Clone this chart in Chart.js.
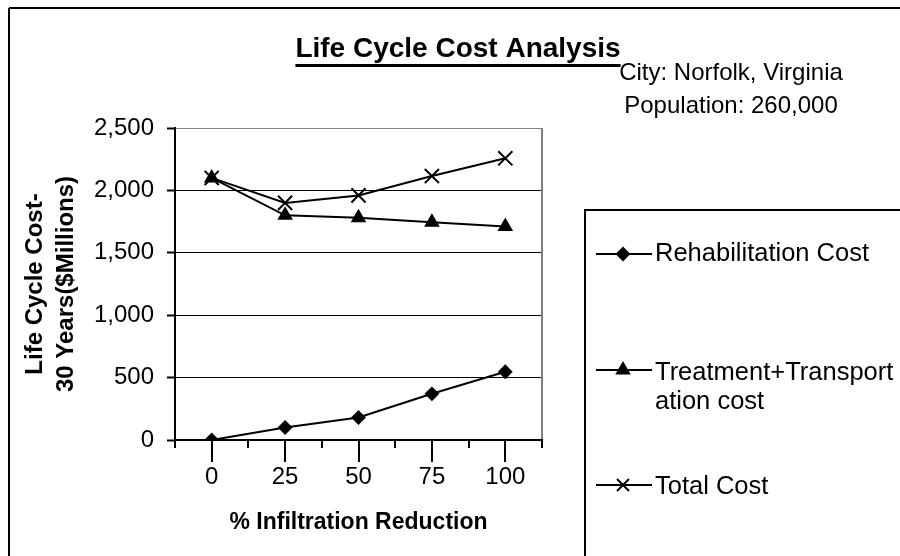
<!DOCTYPE html>
<html><head><meta charset="utf-8">
<script src="https://cdn.jsdelivr.net/npm/chart.js@4/dist/chart.umd.min.js"></script>
<style>html,body{margin:0;padding:0;background:#fff}#wrap{width:900px;height:556px;position:relative}canvas{display:block}</style>
</head><body><div id="wrap"><canvas id="c" width="900" height="556"></canvas></div>
<script>
const categories = ['0', '25', '50', '75', '100'];
const rehabilitationCost = [0, 100, 180, 370, 547];
const treatmentTransportationCost = [2100, 1800, 1780, 1745, 1710];
const totalCost = [2100, 1900, 1960, 2115, 2257];
const yTicks = [0, 500, 1000, 1500, 2000, 2500];
const seriesLabels = ['Rehabilitation Cost', 'Treatment+Transportation cost', 'Total Cost'];
const legendLines = [['Rehabilitation Cost'], ['Treatment+Transport', 'ation cost'], ['Total Cost']];
const chartTitle = 'Life Cycle Cost Analysis';
const noteLines = ['City: Norfolk, Virginia', 'Population: 260,000'];
const xTitle = '% Infiltration Reduction';
const yTitle = ['Life Cycle Cost-', '30 Years($Millions)'];

const FONT = "Arial, 'Liberation Sans', sans-serif";
Chart.defaults.font.family = FONT;
Chart.defaults.color = '#000';

function seg(ctx, x1, y1, x2, y2) { ctx.beginPath(); ctx.moveTo(x1, y1); ctx.lineTo(x2, y2); ctx.stroke(); }

const decor = {
  id: 'decor',
  afterDraw(chart) {
    const ctx = chart.ctx, ca = chart.chartArea, xs = chart.scales.x;
    ctx.save();
    // outer chart border (top and left visible)
    ctx.strokeStyle = '#000'; ctx.lineWidth = 2;
    seg(ctx, 9, 8, 900, 8);
    seg(ctx, 9, 8, 9, 556);
    // plot area right border (gray)
    ctx.strokeStyle = '#808080'; ctx.lineWidth = 2;
    seg(ctx, ca.right, ca.top, ca.right, ca.bottom - 1);
    // long tick marks at category centres
    ctx.strokeStyle = '#000'; ctx.lineWidth = 2;
    categories.forEach((c, i) => { const px = Math.round(xs.getPixelForValue(i)); seg(ctx, px, ca.bottom, px, ca.bottom + 22); });
    // title
    ctx.fillStyle = '#000';
    ctx.font = 'bold 28px ' + FONT;
    ctx.textAlign = 'center'; ctx.textBaseline = 'alphabetic';
    const tx = 458, ty = 57;
    ctx.fillText(chartTitle, tx, ty);
    const tw = ctx.measureText(chartTitle).width;
    ctx.lineWidth = 3;
    seg(ctx, tx - tw / 2, 65.5, tx + tw / 2, 65.5);
    // notes
    ctx.font = '24px ' + FONT;
    ctx.fillText(noteLines[0], 731, 80);
    ctx.fillText(noteLines[1], 731, 113);
    // legend box
    ctx.lineWidth = 2;
    ctx.strokeRect(585, 210, 400, 400);
    const markY = [254, 370, 485];
    const textY = [254, 373, 487];
    ctx.font = '25.5px ' + FONT;
    ctx.textAlign = 'left'; ctx.textBaseline = 'middle';
    chart.data.datasets.forEach((ds, i) => {
      const y = markY[i];
      ctx.strokeStyle = '#000'; ctx.lineWidth = 2;
      seg(ctx, 596, y, 652, y);
      ctx.fillStyle = '#000';
      Chart.helpers.drawPoint(ctx, { pointStyle: ds.pointStyle, radius: ds.legendRadius, rotation: 0, borderWidth: 2 }, 623, y);
      legendLines[i].forEach((t, k) => ctx.fillText(t, 655, textY[i] + k * 29));
    });
    ctx.restore();
  }
};

new Chart(document.getElementById('c'), {
  type: 'line',
  data: {
    labels: categories,
    datasets: [
      { label: seriesLabels[0], data: rehabilitationCost, pointStyle: 'rectRot', pointRadius: 6, legendRadius: 6 },
      { label: seriesLabels[1], data: treatmentTransportationCost, pointStyle: 'triangle', pointRadius: 7, legendRadius: 7 },
      { label: seriesLabels[2], data: totalCost, pointStyle: 'crossRot', pointRadius: 10, legendRadius: 8.5 }
    ].map(d => Object.assign({
      borderColor: '#000', backgroundColor: '#000', pointBackgroundColor: '#000', pointBorderColor: '#000',
      borderWidth: 2, pointBorderWidth: 2, tension: 0, fill: false
    }, d))
  },
  options: {
    responsive: false, animation: false, devicePixelRatio: 1,
    layout: { padding: { top: 128, right: 358, bottom: 0, left: 0 } },
    plugins: { legend: { display: false }, title: { display: false }, tooltip: { enabled: false } },
    scales: {
      x: {
        type: 'category', offset: true,
        grid: { display: true, drawOnChartArea: false, offset: true, tickLength: 8, lineWidth: 2, color: '#000' },
        border: { color: '#000', width: 2 },
        ticks: { font: { size: 24 }, color: '#000', padding: 15, maxRotation: 0, autoSkip: false },
        title: { display: true, text: xTitle, font: { size: 23, weight: 'bold' }, color: '#000', padding: { top: 0, bottom: 20 } },
        afterFit(s) { s.height = 116; }
      },
      y: {
        min: 0, max: 2500,
        afterBuildTicks(s) { s.ticks = yTicks.map(v => ({ value: v })); },
        grid: {
          color: c => (c.tick && c.tick.value === 2500) ? '#808080' : '#000',
          tickColor: '#000', lineWidth: 1, tickWidth: 2, tickLength: 8
        },
        border: { color: '#000', width: 2 },
        ticks: { font: { size: 24 }, color: '#000', padding: 13, callback: v => v.toLocaleString('en-US') },
        title: { display: true, text: yTitle, font: { size: 24, weight: 'bold', lineHeight: 1.3 }, color: '#000', padding: { top: 20, bottom: 0 } },
        afterFit(s) { s.width = 175; }
      }
    }
  },
  plugins: [decor]
});
</script>
</body></html>
